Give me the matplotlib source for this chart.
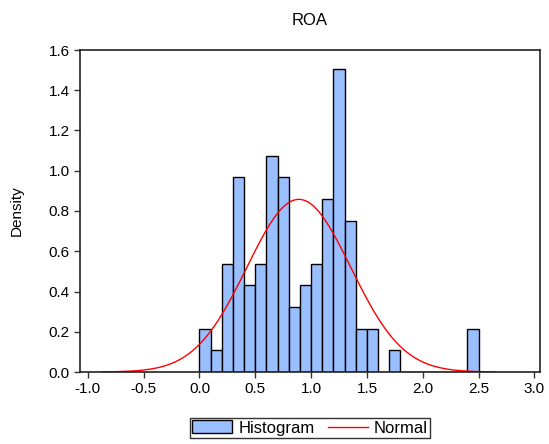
import numpy as np
import matplotlib
matplotlib.use("Agg")
import matplotlib.pyplot as plt

# histogram of ROA: bin edges 0.0 .. 2.5 step 0.1, observation counts per bin
bin_left = [0.0, 0.1, 0.2, 0.3, 0.4, 0.5, 0.6, 0.7, 0.8, 0.9, 1.0, 1.1, 1.2,
            1.3, 1.4, 1.5, 1.6, 1.7, 1.8, 1.9, 2.0, 2.1, 2.2, 2.3, 2.4]
counts = [2, 1, 5, 9, 4, 5, 10, 9, 3, 4, 5, 8, 14,
          7, 2, 2, 0, 1, 0, 0, 0, 0, 0, 0, 2]
bin_width = 0.1

# fitted normal
roa_mean = 0.89
roa_sd = 0.465

xticks = [-1.0, -0.5, 0.0, 0.5, 1.0, 1.5, 2.0, 2.5, 3.0]
yticks = [0.0, 0.2, 0.4, 0.6, 0.8, 1.0, 1.2, 1.4, 1.6]

plt.rcParams['font.family'] = ['Liberation Sans', 'DejaVu Sans']

n = sum(counts)
density = np.array(counts) / (n * bin_width)

fig = plt.figure(figsize=(5.49, 4.44), dpi=100)
ax = fig.add_axes([80 / 549, 1 - 372 / 444, 460 / 549, 322 / 444])

bars = ax.bar(bin_left, density, width=bin_width, align='edge', color='#99bfff',
              edgecolor='black', linewidth=1.0, label='Histogram')

xs = np.linspace(roa_mean - 3.8 * roa_sd, roa_mean + 3.8 * roa_sd, 300)
pdf = np.exp(-0.5 * ((xs - roa_mean) / roa_sd) ** 2) / (roa_sd * np.sqrt(2 * np.pi))
line, = ax.plot(xs, pdf, color='red', linewidth=1.0, label='Normal')

ax.set_xlim(-1.07, 3.05)
ax.set_ylim(0, 1.6)
ax.set_xticks(xticks)
ax.set_xticklabels(['%.1f' % t for t in xticks])
ax.set_yticks(yticks)
ax.set_yticklabels(['%.1f' % t for t in yticks])
ax.tick_params(direction='out', length=4, width=1, labelsize=11, color='#333333')
for s in ax.spines.values():
    s.set_linewidth(1.2)
    s.set_color('#222222')

ax.set_title('ROA', fontsize=12, pad=18)
ax.set_ylabel('Density', fontsize=11, labelpad=18)

fig.legend([bars, line], ['Histogram', 'Normal'], loc='center',
           bbox_to_anchor=(310 / 549, 1 - 428 / 444), ncol=2,
           fontsize=12, frameon=True, fancybox=False, edgecolor='black',
           handlelength=2.4, handleheight=0.8, columnspacing=0.8,
           borderpad=0.15, handletextpad=0.35, borderaxespad=0)

fig.savefig('out.png', dpi=100)
